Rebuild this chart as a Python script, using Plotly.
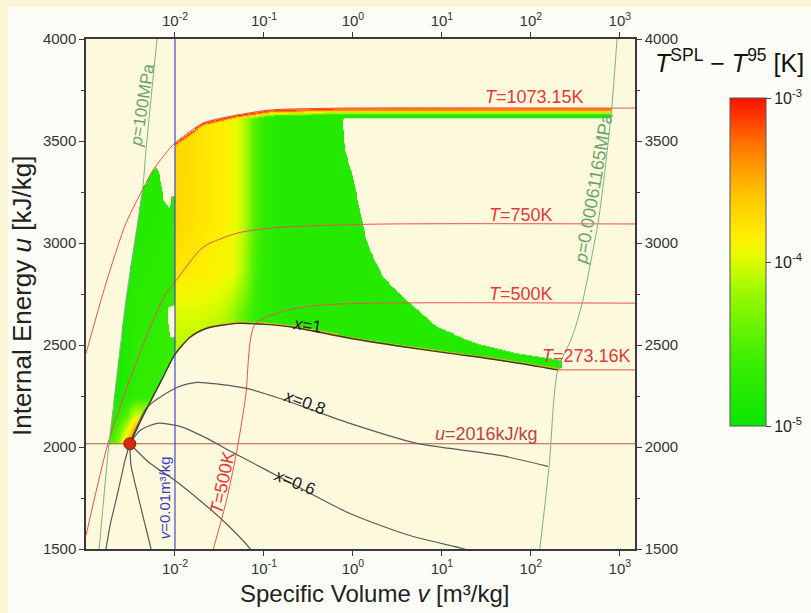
import numpy as np
import plotly.graph_objects as go

# ---------------- values ----------------
# critical point
crit_v = [0.003106]
crit_u = [2016]

# lines of constant vapour quality x   (v in m3/kg, u in kJ/kg)
x0_v = [0.003106, 0.002742, 0.002472, 0.002173, 0.001862, 0.001679, 0.00162]
x0_u = [2016, 1934, 1846, 1738, 1615, 1502, 1470]
x02_v = [0.003106, 0.003206, 0.003648, 0.004487, 0.005370, 0.00555]
x02_u = [2016, 1910, 1802, 1640, 1502, 1470]
x04_v = [0.003106, 0.00524, 0.0100, 0.0191, 0.0365, 0.0697, 0.078]
x04_u = [2016, 1920, 1836, 1738, 1630, 1502, 1470]
x06_v = [0.003106, 0.004046, 0.006281, 0.01138, 0.02173, 0.04487, 0.1959, 0.9247, 4.365, 17.22, 21.0]
x06_u = [2016, 2081, 2116, 2101, 2047, 1973, 1826, 1674, 1566, 1502, 1490]
x08_v = [0.003106, 0.004842, 0.01052, 0.01766, 0.03206, 0.06442, 0.1514, 0.9247, 5.236, 12.30, 44.87, 155.2]
x08_u = [2016, 2194, 2292, 2317, 2307, 2287, 2238, 2116, 2018, 1993, 1959, 1905]
x1_v = [0.003106, 0.00472, 0.00733, 0.0100, 0.01476, 0.02291, 0.0498, 0.1026, 0.2118, 0.9247, 3.373, 12.30, 44.87, 200.0]
x1_u = [2016, 2180, 2341, 2454, 2538, 2582, 2606, 2601, 2587, 2533, 2494, 2459, 2425, 2378]

# isotherms
t1073_v = [0.001, 0.001679, 0.002812, 0.004721, 0.005662, 0.008790, 0.0100, 0.02065, 0.04977, 0.1167, 0.6607, 2000]
t1073_u = [2459, 2803, 3097, 3293, 3357, 3465, 3490, 3588, 3627, 3652, 3661, 3661]
t750_v = [0.001, 0.001766, 0.002812, 0.004721, 0.007925, 0.01052, 0.02065, 0.04977, 0.1167, 1.552, 2000]
t750_u = [1566, 2018, 2278, 2538, 2754, 2822, 2979, 3048, 3073, 3092, 3093]
t500_v = [0.0262, 0.0385, 0.0505, 0.0624, 0.0793, 0.181, 0.426, 1.552, 2000]
t500_u = [1480, 1750, 2000, 2250, 2602, 2670, 2695, 2705, 2705]
t273_v = [200.0, 2000]
t273_u = [2378, 2378]

# isochore, iso-energy line
v001_v = [0.01, 0.01]
v001_u = [1500, 4000]
u2016_v = [0.0009, 2000]
u2016_u = [2016, 2016]

# isobars
p100_v = [0.006281, 0.004721, 0.004365, 0.002812, 0.002009, 0.001811, 0.001400]
p100_u = [4000, 3455, 3279, 2719, 2180, 2016, 1493]
ptp_v = [940, 928, 810, 698, 618, 566, 377, 291, 200, 160, 124]
ptp_u = [4050, 4000, 3661, 3400, 3210, 3093, 2705, 2540, 2378, 1902, 1475]

# outline of the coloured field (left wedge, v < 0.01)
wedge_v = [0.001811, 0.003106, 0.00472, 0.00733, 0.0100, 0.0100, 0.009247, 0.008570, 0.007516,
           0.006966, 0.006607, 0.006124, 0.005662, 0.004721, 0.004365, 0.002812, 0.002009]
wedge_u = [2016, 2016, 2180, 2341, 2454, 3230, 3230, 3171, 3210,
           3284, 3347, 3372, 3357, 3293, 3279, 2719, 2180]
hole_v = [0.008337, 0.0100, 0.0100, 0.008790, 0.008337]
hole_u = [2685, 2695, 2538, 2538, 2611]
# outline of the coloured field (v >= 0.01)
main_v = [0.0100, 0.01476, 0.02291, 0.0498, 0.1026, 0.2118, 0.9247, 3.373, 12.30, 44.87, 200.0,
          222.0, 222.0, 69.66, 24.72, 8.79, 4.046, 2.173, 1.552, 1.330, 1.138, 0.9750, 0.8128,
          0.7727, 0.8128, 792.0, 812.0, 0.6607, 0.1167, 0.04977, 0.02065, 0.0100]
main_u = [2454, 2538, 2582, 2606, 2601, 2587, 2533, 2494, 2459, 2425, 2378,
          2386, 2425, 2459, 2508, 2587, 2719, 2832, 2965, 3063, 3210, 3342, 3455,
          3603, 3612, 3612, 3661, 3661, 3652, 3627, 3588, 3490]

# log10(T_SPL - T_95) samples of the coloured field
main_grid_v = [0.01, 0.0178, 0.0316, 0.0447, 0.0603, 0.0759, 0.1, 0.141, 1585]
main_grid_u = [2400, 2650, 2850, 3100, 3700]
main_grid_z = [[-4.15, -4.15, -4.25, -4.40, -4.55, -4.68, -4.74, -4.78, -4.80],
               [-4.00, -4.00, -4.05, -4.20, -4.45, -4.62, -4.72, -4.78, -4.80],
               [-3.80, -3.84, -3.88, -3.94, -4.15, -4.50, -4.70, -4.78, -4.80],
               [-3.70, -3.77, -3.84, -3.90, -4.10, -4.45, -4.68, -4.78, -4.80],
               [-3.68, -3.76, -3.84, -3.90, -4.10, -4.45, -4.68, -4.78, -4.80]]
wedge_grid_v = [0.00178, 0.00224, 0.00282, 0.00355, 0.01]
wedge_grid_u = [2016, 2070, 2150, 2250, 4000]
wedge_grid_z = [[-4.60, -4.30, -3.60, -3.10, -3.00],
                [-4.70, -4.50, -4.00, -3.40, -3.30],
                [-4.80, -4.70, -4.50, -4.00, -3.90],
                [-4.85, -4.85, -4.80, -4.70, -4.60],
                [-4.90, -4.90, -4.90, -4.90, -4.90]]
# band just below the T=1073.15K edge: depth [kJ/kg] and value
top_band_depth = [8, 14, 22, 30]
top_band_z = [-3.15, -3.40, -3.85, -4.20]
# band just above the saturated-vapour edge
bot_band_depth = [8]
bot_band_z = [-3.55]

xtick_vals = [0.01, 0.1, 1, 10, 100, 1000]
xtick_text = ['10<sup>-2</sup>', '10<sup>-1</sup>', '10<sup>0</sup>', '10<sup>1</sup>',
              '10<sup>2</sup>', '10<sup>3</sup>']
ytick_vals = [1500, 2000, 2500, 3000, 3500, 4000]
cbar_vals = [-5, -4, -3]
cbar_text = ['10<sup>-5</sup>', '10<sup>-4</sup>', '10<sup>-3</sup>']

# ---------------- build the field on a grid ----------------
lv_edges = np.arange(-3.0, 3.1751, 0.01)
u_edges = np.arange(2000.0, 3685.0, 5.0)
lvc = 0.5 * (lv_edges[1:] + lv_edges[:-1])
uc = 0.5 * (u_edges[1:] + u_edges[:-1])
LV, U = np.meshgrid(lvc, uc)


def inside(poly_v, poly_u):
    xs = np.log10(np.array(poly_v, float))
    ys = np.array(poly_u, float)
    res = np.zeros(LV.shape, bool)
    j = len(xs) - 1
    for i in range(len(xs)):
        xi, yi, xj, yj = xs[i], ys[i], xs[j], ys[j]
        if yi != yj:
            cond = ((yi > U) != (yj > U)) & (LV < (xj - xi) * (U - yi) / (yj - yi) + xi)
            res ^= cond
        j = i
    return res


def grid_field(gv, gu, gz):
    glv = np.log10(np.array(gv, float))
    rows = np.array([np.interp(lvc, glv, r) for r in gz])
    out = np.empty(LV.shape)
    for j in range(len(lvc)):
        out[:, j] = np.interp(uc, gu, rows[:, j])
    return out


m_wedge = inside(wedge_v, wedge_u) & ~inside(hole_v, hole_u)
m_main = inside(main_v, main_u)

Z = np.full(LV.shape, np.nan)
Zw = grid_field(wedge_grid_v, wedge_grid_u, wedge_grid_z)
Zm = grid_field(main_grid_v, main_grid_u, main_grid_z)

u_top = np.interp(LV, np.log10(t1073_v), t1073_u)
u_bot = np.interp(LV, np.log10(x1_v), x1_u)
d_top = u_top - U
d_bot = U - u_bot
for depth, val in reversed(list(zip(top_band_depth, top_band_z))):
    Zm = np.where(d_top < depth, np.maximum(Zm, val), Zm)
for depth, val in zip(bot_band_depth, bot_band_z):
    Zm = np.where(d_bot < depth, np.maximum(Zm, val), Zm)

Z[m_wedge] = Zw[m_wedge]
Z[m_main] = Zm[m_main]
Z = np.round(Z, 2)
Zl = [[None if np.isnan(a) else float(a) for a in row] for row in Z]

colorscale = [[0.0, '#0ce600'], [0.2, '#3aee00'], [0.4, '#98f800'], [0.52, '#e8fc00'],
              [0.58, '#ffee00'], [0.7, '#ffc600'], [0.85, '#ff7a00'], [1.0, '#ff1000']]

FONT = 'Arial, Liberation Sans, sans-serif'

fig = go.Figure()
fig.add_trace(go.Heatmap(
    x=(10 ** lv_edges).tolist(), y=u_edges.tolist(), z=Zl,
    zmin=-5, zmax=-3, colorscale=colorscale, zsmooth=False, hoverinfo='skip',
    colorbar=dict(x=1.1731, xanchor='left', xpad=0, y=0.5627, yanchor='middle', ypad=0,
                  lenmode='pixels', len=328, thickness=36,
                  tickmode='array', tickvals=cbar_vals, ticktext=cbar_text,
                  ticks='outside', ticklen=5, tickcolor='#444',
                  tickfont=dict(size=16, color='#222', family=FONT),
                  outlinewidth=1, outlinecolor='#555')))


def line(xv, yv, color, width=1.0, shape='spline', smooth=0.7):
    fig.add_trace(go.Scatter(x=xv, y=yv, mode='lines', hoverinfo='skip', showlegend=False,
                             line=dict(color=color, width=width, shape=shape,
                                       smoothing=smooth if shape == 'spline' else None)))


RED = '#ee5050'
GRN = '#7fb07f'
GRY = '#5a5a5a'
line(t1073_v, t1073_u, RED)
line(t750_v, t750_u, RED)
line(t500_v, t500_u, RED)
line(t273_v, t273_u, RED, shape='linear')
line(u2016_v, u2016_u, '#c05858', 1.0, 'linear')
line(v001_v, v001_u, '#4646d8', 1.2, 'linear')
line(p100_v, p100_u, GRN)
line(ptp_v, ptp_u, GRN)
for xv, yv in [(x0_v, x0_u), (x02_v, x02_u), (x04_v, x04_u), (x06_v, x06_u), (x08_v, x08_u)]:
    line(xv, yv, GRY, 1.2)
line(x1_v, x1_u, '#3a3a2a', 1.4)
fig.add_trace(go.Scatter(x=crit_v, y=crit_u, mode='markers', hoverinfo='skip', showlegend=False,
                         marker=dict(size=12, color='#d42a10', line=dict(color='#8a1a08', width=1))))
# dummy trace for the mirrored axes
fig.add_trace(go.Scatter(x=[0.01], y=[2000], xaxis='x2', yaxis='y2', mode='markers',
                         marker=dict(opacity=0), hoverinfo='skip', showlegend=False))


def lab(text, lv, u, color, size=18, angle=0):
    fig.add_annotation(x=lv, y=u, xref='x', yref='y', text=text, showarrow=False,
                       textangle=angle, font=dict(size=size, color=color, family=FONT),
                       xanchor='center', yanchor='middle')


TL = '#e23a3a'
lab('<i>T</i>=1073.15K', 2.045, 3715, TL)
lab('<i>T</i>=750K', 1.888, 3136, TL)
lab('<i>T</i>=500K', 1.888, 2749, TL)
lab('<i>T</i>=273.16K', 2.629, 2444, TL)
lab('<i>T</i>=500K', -1.472, 1826, TL, 18, -78)
lab('<i>u</i>=2016kJ/kg', 1.506, 2062, '#bb4444')
lab('<i>x</i>=1', -0.506, 2597, '#222', 17, 8)
lab('<i>x</i>=0.8', -0.539, 2219, '#222', 17, 20)
lab('<i>x</i>=0.6', -0.652, 1826, '#222', 17, 22)
lab('<i>v</i>=0.01m³/kg', -2.124, 1753, '#3a3acf', 15, -90)
lab('<i>p</i>=100MPa', -2.371, 3676, '#6aa36a', 17, -81)
lab('<i>p</i>=0.00061165MPa', 2.708, 3269, '#6aa36a', 18, -80)

fig.add_annotation(xref='paper', yref='paper', x=1.1730, y=0.9569, showarrow=False,
                   text='<i>T</i><sup>SPL</sup> − <i>T</i><sup>95</sup> [K]',
                   font=dict(size=25, color='#111', family=FONT),
                   xanchor='center', yanchor='middle')
# axis titles
fig.add_annotation(xref='paper', yref='paper', x=0.526, y=-0.088, showarrow=False,
                   text='Specific Volume <i>v</i> [m³/kg]',
                   font=dict(size=24, color='#222', family=FONT), xanchor='center', yanchor='middle')
fig.add_annotation(xref='paper', yref='paper', x=-0.1166, y=0.496, showarrow=False, textangle=-90,
                   text='Internal Energy <i>u</i> [kJ/kg]',
                   font=dict(size=26, color='#222', family=FONT), xanchor='center', yanchor='middle')

# cream strips at the picture edges
fig.add_shape(type='rect', xref='paper', yref='paper', x0=-0.16, x1=1.33, y0=1.0627, y1=1.08,
              fillcolor='#fbf6d6', line=dict(width=0), layer='below')
fig.add_shape(type='rect', xref='paper', yref='paper', x0=-0.16, x1=-0.142, y0=-0.13, y1=1.08,
              fillcolor='#fbf6d6', line=dict(width=0), layer='below')

ax = dict(showline=True, linecolor='#3a3a3a', linewidth=1.5, ticks='outside', ticklen=5,
          tickwidth=1.2, tickcolor='#3a3a3a', showgrid=False, zeroline=False, automargin=False,
          tickfont=dict(size=15, color='#333', family=FONT))
xtf = dict(size=15, color='#333', family=FONT)
fig.update_layout(
    width=811, height=613, margin=dict(l=86, r=176, t=39, b=64, autoexpand=False),
    paper_bgcolor='#fdfdf7', plot_bgcolor='#fcf9dc', showlegend=False,
    font=dict(family=FONT),
    xaxis=dict(type='log', range=[-3, 3.17], tickmode='array', tickvals=xtick_vals,
               ticktext=xtick_text, **{**ax, 'tickfont': xtf}),
    xaxis2=dict(type='log', range=[-3, 3.17], tickmode='array', tickvals=xtick_vals,
                ticktext=xtick_text, overlaying='x', side='top', anchor='y',
                **{**ax, 'tickfont': xtf}),
    yaxis=dict(range=[1500, 4000], tickmode='array', tickvals=ytick_vals,
               minor=dict(dtick=250, ticklen=3, ticks='outside', tickcolor='#3a3a3a'), **ax),
    yaxis2=dict(range=[1500, 4000], tickmode='array', tickvals=ytick_vals, overlaying='y',
                side='right', anchor='x',
                minor=dict(dtick=250, ticklen=3, ticks='outside', tickcolor='#3a3a3a'), **ax),
)
fig.write_html('out.html', config={'displayModeBar': False},
               post_script="document.body.style.margin='0px';document.body.style.padding='0px';"
                           "document.body.style.overflow='hidden';")
